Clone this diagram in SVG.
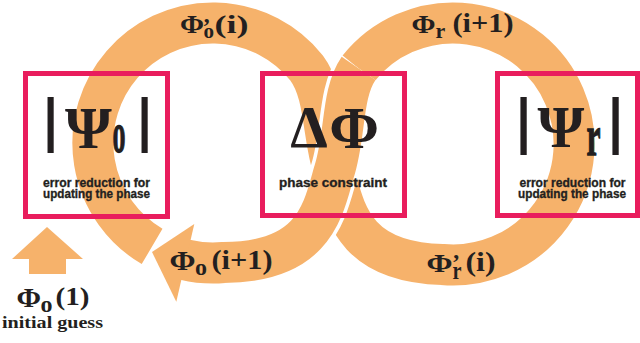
<svg xmlns="http://www.w3.org/2000/svg" width="640" height="343" viewBox="0 0 640 343">
<style>
.band{fill:none;stroke:#f6b26b;stroke-width:41;stroke-linecap:butt}
.gap{fill:none;stroke:#ffffff;stroke-width:48;stroke-linecap:butt}
.head{fill:#f6b26b}
.box{fill:none;stroke:#e91d5d;stroke-width:5}
.g{font-family:"Liberation Serif","DejaVu Serif",serif;font-weight:bold;fill:#231f20}
.bar{stroke:#231f20;stroke-width:2}
.sub{stroke:#231f20;stroke-width:1.3}
.s{font-family:"Liberation Sans",Arial,sans-serif;font-weight:bold;fill:#231f20;stroke:#231f20;stroke-width:0.35}
</style>
<rect width="640" height="343" fill="#ffffff"/>
<g id="connectors">
  <path id="loop-a" class="band" d="M 152.1 246.4 A 120 120 0 1 1 306.6 68 C 326 94, 322 135, 334 172 C 345 210, 352 262, 442.5 264.5 A 121 121 0 1 0 358.6 68.4"/>
  <path class="gap" d="M 358.6 68.4 C 341 94, 346 135, 334 172 C 323 210, 315 262, 223.5 262.5"/>
  <path id="loop-b" class="band" d="M 358.6 68.4 C 341 94, 346 135, 334 172 C 323 210, 315 262, 223.5 262.5 A 120 120 0 0 1 185.0 259.7"/>
  <polygon class="head" points="194.3,223.9 152,252 176.3,301.8"/>
  <polygon id="init-arrow" class="head" points="47,227 83,259 66,259 66,274 29,274 29,259 12,259"/>
  <g id="label-phi-o-prime">
    <text class="g" x="180" y="33" font-size="25" textLength="24" lengthAdjust="spacingAndGlyphs">Φ</text>
    <text class="g" x="202.5" y="33.5" font-size="24">’</text>
    <text class="g" x="203.5" y="38" font-size="21">o</text>
    <text class="g" x="214.5" y="33" font-size="26" textLength="34" lengthAdjust="spacingAndGlyphs">(i)</text>
  </g>
  <g id="label-phi-r">
    <text class="g" x="411.5" y="33" font-size="25" textLength="24" lengthAdjust="spacingAndGlyphs">Φ</text>
    <text class="g" x="435.5" y="38" font-size="22">r</text>
    <text class="g" x="452.5" y="31.6" font-size="27" textLength="61" lengthAdjust="spacingAndGlyphs">(i+1)</text>
  </g>
  <g id="label-phi-r-prime">
    <text class="g" x="426.5" y="272" font-size="26" textLength="26" lengthAdjust="spacingAndGlyphs">Φ</text>
    <text class="g" x="452" y="270" font-size="24">’</text>
    <text class="g" x="452.5" y="279" font-size="25" textLength="9" lengthAdjust="spacingAndGlyphs">r</text>
    <text class="g" x="465.5" y="270.5" font-size="27" textLength="30" lengthAdjust="spacingAndGlyphs">(i)</text>
  </g>
  <g id="label-phi-o">
    <text class="g" x="169.5" y="270" font-size="27" textLength="26" lengthAdjust="spacingAndGlyphs">Φ</text>
    <text class="g" x="195" y="275" font-size="24">o</text>
    <text class="g" x="211.5" y="268.5" font-size="28" textLength="61" lengthAdjust="spacingAndGlyphs">(i+1)</text>
  </g>
</g>
<g id="node-psi-o">
  <rect class="box" x="25.5" y="73.5" width="142" height="143"/>
  <text class="g bar" x="50.5" y="139" font-size="60" text-anchor="middle">|</text>
  <text class="g" x="88.5" y="148" font-size="60" text-anchor="middle">Ψ</text>
  <text class="g sub" x="112.5" y="152" font-size="56" textLength="13" lengthAdjust="spacingAndGlyphs">o</text>
  <text class="g bar" x="144.5" y="139" font-size="60" text-anchor="middle">|</text>
  <text class="s" x="43" y="186.5" font-size="13.5" textLength="107" lengthAdjust="spacingAndGlyphs">error reduction for</text>
  <text class="s" x="43" y="198" font-size="13.5" textLength="107" lengthAdjust="spacingAndGlyphs">updating the phase</text>
</g>
<g id="node-delta-phi">
  <rect class="box" x="262.5" y="73.5" width="142" height="142"/>
  <text class="g" x="309" y="147" font-size="60" text-anchor="middle">Δ</text>
  <text class="g" x="354" y="148" font-size="60" text-anchor="middle">Φ</text>
  <text class="s" x="279" y="187" font-size="13.5" textLength="108" lengthAdjust="spacingAndGlyphs">phase constraint</text>
</g>
<g id="node-psi-r">
  <rect class="box" x="497.5" y="73.5" width="140" height="142"/>
  <text class="g bar" x="523.5" y="141" font-size="62" text-anchor="middle">|</text>
  <text class="g" x="561" y="147" font-size="60" text-anchor="middle">Ψ</text>
  <text class="g sub" x="586.5" y="155" font-size="56" textLength="14" lengthAdjust="spacingAndGlyphs">r</text>
  <text class="g bar" x="615.5" y="141" font-size="62" text-anchor="middle">|</text>
  <text class="s" x="519.5" y="186.5" font-size="13.5" textLength="106" lengthAdjust="spacingAndGlyphs">error reduction for</text>
  <text class="s" x="518" y="198" font-size="13.5" textLength="108" lengthAdjust="spacingAndGlyphs">updating the phase</text>
</g>
<g id="node-initial">
  <text class="g" x="16.5" y="307" font-size="28" textLength="24.5" lengthAdjust="spacingAndGlyphs">Φ</text>
  <text class="g" x="40.5" y="312" font-size="24">o</text>
  <text class="g" x="55.5" y="305" font-size="26" textLength="34" lengthAdjust="spacingAndGlyphs">(1)</text>
  <text class="g" x="2" y="328" font-size="17" textLength="101" lengthAdjust="spacingAndGlyphs">initial guess</text>
</g>
</svg>
